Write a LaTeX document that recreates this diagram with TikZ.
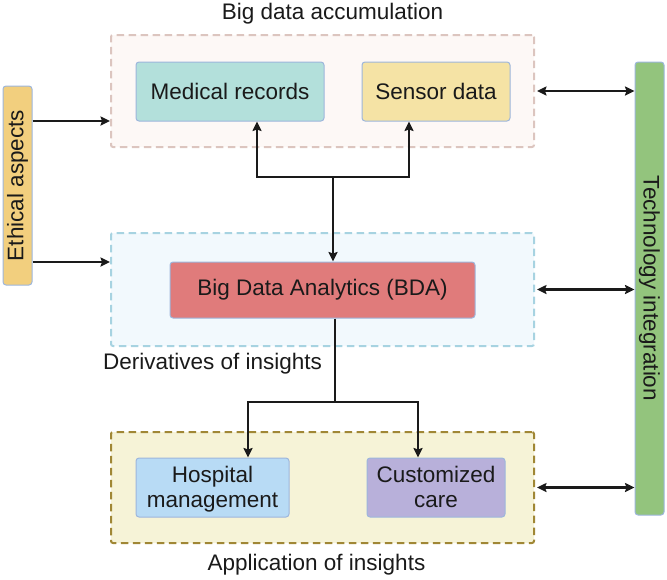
\documentclass[tikz,border=0pt]{standalone}
\usepackage{fontspec}
\setmainfont{Liberation Sans}
\usetikzlibrary{arrows.meta,calc}
\definecolor{txt}{HTML}{1A1A1A}
\definecolor{boxline}{HTML}{9DB6DC}
\definecolor{medfill}{HTML}{B3E0DB}
\definecolor{senfill}{HTML}{F5E3A5}
\definecolor{bdafill}{HTML}{E07B7B}
\definecolor{hosfill}{HTML}{B8DBF5}
\definecolor{cusfill}{HTML}{B8B0DA}
\definecolor{ethfill}{HTML}{F2CF7E}
\definecolor{tecfill}{HTML}{93C47D}
\definecolor{topline}{HTML}{DCC5BF}
\definecolor{topfill}{HTML}{FDF8F6}
\definecolor{midline}{HTML}{A7D3E1}
\definecolor{midfill}{HTML}{F2F9FD}
\definecolor{botline}{HTML}{A08735}
\definecolor{botfill}{HTML}{F6F3D7}
\newcommand{\topstrut}{\rule{0pt}{23pt}}
\tikzset{
  every node/.style={font=\fontsize{22.5}{25.5}\selectfont, text=txt, inner sep=0pt},
  item/.style={draw=boxline, line width=1pt, rounded corners=3pt, align=center},
  group/.style={line width=2pt, dash pattern=on 7.5pt off 4.5pt, rounded corners=2pt},
  arr/.style={draw=txt, line width=2.2pt, -{Stealth[length=9.5pt,width=9pt,inset=1.5pt]}},
  dbl/.style={draw=txt, line width=2.2pt, {Stealth[length=9.5pt,width=9pt,inset=1.5pt]}-{Stealth[length=9.5pt,width=9pt,inset=1.5pt]}},
  plain/.style={draw=txt, line width=2.2pt},
}
\begin{document}
\begin{tikzpicture}[x=1pt,y=-1pt]
\useasboundingbox (0,0) rectangle (667,579);
% groups
\node[group, draw=topline, fill=topfill, minimum width=423pt, minimum height=112pt] (topc) at (322.5,91) {};
\node[group, draw=midline, fill=midfill, minimum width=423pt, minimum height=113pt] (midc) at (322.5,289.5) {};
\node[group, draw=botline, fill=botfill, minimum width=423pt, minimum height=111pt] (botc) at (322.5,487.5) {};
% group titles
\node (ttop) at (332.5,14) {Big data accumulation};
\node (tmid) at (212.5,364) {Derivatives of insights};
\node (tbot) at (316.5,565) {Application of insights};
% items
\node[item, fill=medfill, minimum width=188pt, minimum height=59pt] (med) at (230,91.5) {Medical records};
\node[item, fill=senfill, minimum width=148pt, minimum height=59pt] (sen) at (436,91.5) {Sensor data};
\node[item, fill=bdafill, minimum width=305pt, minimum height=56pt] (bda) at (322.5,290) {Big Data Analytics (BDA)};
\node[item, fill=hosfill, minimum width=153pt, minimum height=59pt] (hos) at (212.5,487.5) {\topstrut Hospital\strut\\management\strut};
\node[item, fill=cusfill, minimum width=138pt, minimum height=59pt] (cus) at (436,487.5) {\topstrut Customized\strut\\care\strut};
\node[item, fill=ethfill, rotate=90, minimum width=199pt, minimum height=29pt] (eth) at (17.5,185.5) {Ethical aspects};
\node[item, fill=tecfill, rotate=-90, minimum width=453pt, minimum height=29pt] (tec) at (649.5,288.5) {Technology integration};
% ethical arrows
\coordinate (e1) at (0,121);
\coordinate (e2) at (0,262);
\draw[arr] (eth.south |- e1) -- (topc.west |- e1);
\draw[arr] (eth.south |- e2) -- (midc.west |- e2);
% technology double arrows
\draw[dbl] ([xshift=2pt]topc.east) -- (tec.south |- topc.east);
\draw[dbl] ([xshift=2pt]midc.east) -- (tec.south |- midc.east);
\draw[dbl] ([xshift=2pt]botc.east) -- (tec.south |- botc.east);
% upper branch
\coordinate (j1) at (333,177);
\coordinate (jm) at (257,177);
\coordinate (js) at (409,177);
\draw[arr] (j1) -- (j1 |- bda.north);
\draw[arr] (j1) -- (jm) -- (jm |- med.south);
\draw[arr] (j1) -- (js) -- (js |- sen.south);
% lower branch
\coordinate (j2) at (335,402);
\coordinate (jh) at (248,402);
\coordinate (jc) at (418,402);
\draw[plain] (j2 |- bda.south) -- (j2);
\draw[arr] (j2) -- (jh) -- (jh |- hos.north);
\draw[arr] (j2) -- (jc) -- (jc |- cus.north);
\end{tikzpicture}
\end{document}
